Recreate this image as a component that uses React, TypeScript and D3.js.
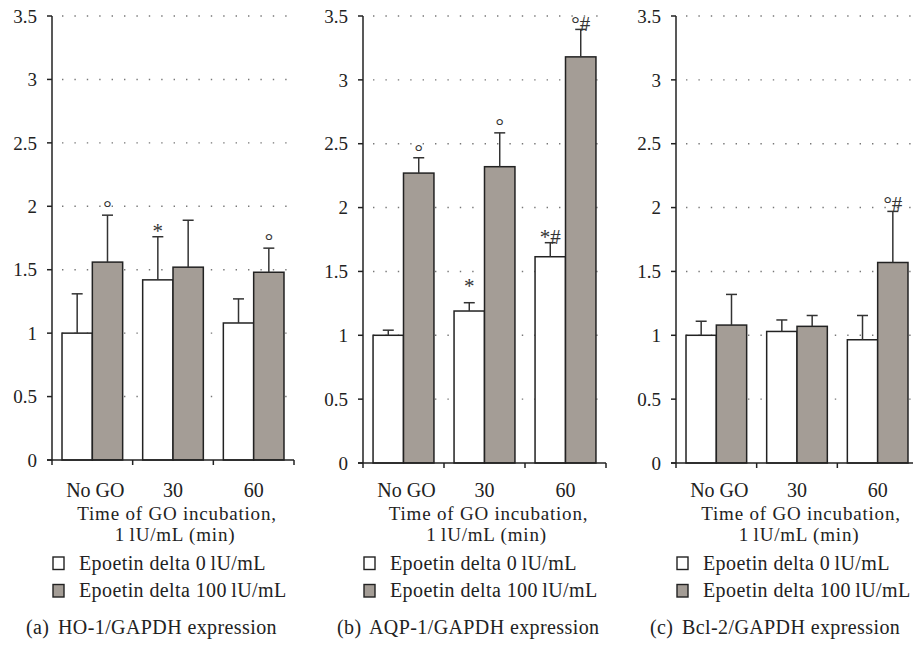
import React, { useEffect, useRef } from 'react';
import * as d3 from 'd3';

const categories = ['No GO', '30', '60'];
const seriesLabels = ['Epoetin delta 0\u2009lU/mL', 'Epoetin delta 100\u2009lU/mL'];
const yTicks = [0, 0.5, 1, 1.5, 2, 2.5, 3, 3.5];

// (a) HO-1/GAPDH
const hoControl = [1.0, 1.42, 1.08];
const hoControlErr = [0.31, 0.34, 0.19];
const hoEpoetin = [1.56, 1.52, 1.48];
const hoEpoetinErr = [0.37, 0.37, 0.19];
const hoControlMarks = ['', '*', ''];
const hoControlMarkAt = [0, 1.83, 0];
const hoEpoetinMarks = ['°', '', '°'];
const hoEpoetinMarkAt = [2.01, 0, 1.75];

// (b) AQP-1/GAPDH
const aqpControl = [1.0, 1.19, 1.615];
const aqpControlErr = [0.04, 0.065, 0.11];
const aqpEpoetin = [2.27, 2.32, 3.18];
const aqpEpoetinErr = [0.12, 0.265, 0.215];
const aqpControlMarks = ['', '*', '*#'];
const aqpControlMarkAt = [0, 1.41, 1.79];
const aqpEpoetinMarks = ['°', '°', '°#'];
const aqpEpoetinMarkAt = [2.46, 2.66, 3.46];

// (c) Bcl-2/GAPDH
const bclControl = [1.0, 1.03, 0.965];
const bclControlErr = [0.11, 0.09, 0.19];
const bclEpoetin = [1.08, 1.07, 1.57];
const bclEpoetinErr = [0.24, 0.085, 0.4];
const bclControlMarks = ['', '', ''];
const bclControlMarkAt = [0, 0, 0];
const bclEpoetinMarks = ['', '', '°#'];
const bclEpoetinMarkAt = [0, 0, 2.05];

const panels = [
  {
    tag: '(a)', title: 'HO-1/GAPDH expression',
    series: [
      { values: hoControl, errs: hoControlErr, marks: hoControlMarks, markAt: hoControlMarkAt },
      { values: hoEpoetin, errs: hoEpoetinErr, marks: hoEpoetinMarks, markAt: hoEpoetinMarkAt },
    ],
    left: 52, right: 294, bottom: 460,
  },
  {
    tag: '(b)', title: 'AQP-1/GAPDH expression',
    series: [
      { values: aqpControl, errs: aqpControlErr, marks: aqpControlMarks, markAt: aqpControlMarkAt },
      { values: aqpEpoetin, errs: aqpEpoetinErr, marks: aqpEpoetinMarks, markAt: aqpEpoetinMarkAt },
    ],
    left: 363, right: 606, bottom: 463,
  },
  {
    tag: '(c)', title: 'Bcl-2/GAPDH expression',
    series: [
      { values: bclControl, errs: bclControlErr, marks: bclControlMarks, markAt: bclControlMarkAt },
      { values: bclEpoetin, errs: bclEpoetinErr, marks: bclEpoetinMarks, markAt: bclEpoetinMarkAt },
    ],
    left: 676, right: 918, bottom: 463,
  },
];

const fills = ['#ffffff', '#a49d96'];
const FONT = '"Liberation Serif", "DejaVu Serif", serif';

const App = () => {
  const svgRef = useRef<SVGSVGElement>(null);

  useEffect(() => {
    const svg = d3.select(svgRef.current);
    svg.selectAll('*').remove();

    panels.forEach(p => {
      const g = svg.append('g').attr('font-family', FONT).attr('fill', '#222');
      const y = d3.scaleLinear().domain([0, 3.5]).range([p.bottom, 16]);
      const x0 = d3.scaleBand().domain(categories).range([p.left, p.right]);
      const x1 = d3.scaleBand().domain(['0', '1']).range([0, x0.bandwidth()]).paddingOuter(0.33);

      // dotted gridlines
      yTicks.filter(t => t > 0).forEach(t => {
        g.append('line')
          .attr('x1', p.left + 10).attr('x2', p.right)
          .attr('y1', y(t)).attr('y2', y(t))
          .attr('stroke', '#777').attr('stroke-width', 1.4)
          .attr('stroke-dasharray', '1.4,11');
      });

      // bars
      p.series.forEach((s, si) => {
        categories.forEach((c, ci) => {
          const bx = x0(c)! + x1(String(si))!;
          const bw = x1.bandwidth();
          g.append('rect')
            .attr('x', bx).attr('y', y(s.values[ci]))
            .attr('width', bw).attr('height', y(0) - y(s.values[ci]))
            .attr('fill', fills[si]).attr('stroke', '#222').attr('stroke-width', 1.5);
        });
      });

      // error bars and significance marks
      p.series.forEach((s, si) => {
        categories.forEach((c, ci) => {
          const cx = x0(c)! + x1(String(si))! + x1.bandwidth() / 2;
          const top = y(s.values[ci] + s.errs[ci]);
          g.append('line')
            .attr('x1', cx).attr('x2', cx)
            .attr('y1', y(s.values[ci])).attr('y2', top)
            .attr('stroke', '#333').attr('stroke-width', 1.5);
          g.append('line')
            .attr('x1', cx - 5.5).attr('x2', cx + 5.5)
            .attr('y1', top).attr('y2', top)
            .attr('stroke', '#333').attr('stroke-width', 1.5);
          if (s.marks[ci]) {
            g.append('text')
              .attr('x', cx).attr('y', y(s.markAt[ci]) + 10)
              .attr('text-anchor', 'middle').attr('font-size', 21)
              .attr('fill', '#333')
              .text(s.marks[ci]);
          }
        });
      });

      // y axis
      g.append('line')
        .attr('x1', p.left).attr('x2', p.left)
        .attr('y1', y(0)).attr('y2', y(3.5))
        .attr('stroke', '#222').attr('stroke-width', 1.5);
      yTicks.forEach(t => {
        g.append('line')
          .attr('x1', p.left - 5).attr('x2', p.left)
          .attr('y1', y(t)).attr('y2', y(t))
          .attr('stroke', '#222').attr('stroke-width', 1.5);
        g.append('text')
          .attr('x', p.left - 15).attr('y', y(t)).attr('dy', '0.35em')
          .attr('text-anchor', 'end').attr('font-size', 19)
          .text(String(t));
      });

      // x axis
      g.append('line')
        .attr('x1', p.left - 5).attr('x2', p.right)
        .attr('y1', y(0)).attr('y2', y(0))
        .attr('stroke', '#222').attr('stroke-width', 1.5);
      [...categories.map(c => x0(c)!), p.right].forEach(xt => {
        g.append('line')
          .attr('x1', xt).attr('x2', xt)
          .attr('y1', y(0)).attr('y2', y(0) + 5)
          .attr('stroke', '#222').attr('stroke-width', 1.5);
      });
      categories.forEach(c => {
        g.append('text')
          .attr('x', x0(c)! + x0.bandwidth() / 2 + (c === 'No GO' ? 3 : 0)).attr('y', 497)
          .attr('text-anchor', 'middle').attr('font-size', 20)
          .text(c);
      });

      const mid = (p.left + p.right) / 2;
      g.append('text')
        .attr('x', mid + 4).attr('y', 520)
        .attr('text-anchor', 'middle').attr('font-size', 19).attr('letter-spacing', 0.8)
        .text('Time of GO incubation,');
      g.append('text')
        .attr('x', mid + 2).attr('y', 541)
        .attr('text-anchor', 'middle').attr('font-size', 19).attr('letter-spacing', 0.8)
        .text('1\u2009lU/mL (min)');

      // legend
      seriesLabels.forEach((lab, i) => {
        g.append('rect')
          .attr('x', p.left + 1).attr('y', 557 + i * 27.5)
          .attr('width', 11).attr('height', 12.5)
          .attr('fill', fills[i]).attr('stroke', '#222').attr('stroke-width', 1.4);
        g.append('text')
          .attr('x', p.left + 27).attr('y', 570 + i * 27)
          .attr('font-size', 20).attr('letter-spacing', 0.4)
          .text(lab);
      });

      // caption
      g.append('text')
        .attr('x', p.left - 26).attr('y', 634)
        .attr('font-size', 20).attr('letter-spacing', 0.4)
        .text(p.tag);
      g.append('text')
        .attr('x', p.left + 6).attr('y', 634)
        .attr('font-size', 20).attr('letter-spacing', 0.4)
        .text(p.title);
    });
  }, []);

  return (
    <svg
      ref={svgRef}
      width={913}
      height={645}
      style={{ position: 'absolute', left: 0, top: 0, display: 'block', background: '#fff' }}
    />
  );
};

export default App;
